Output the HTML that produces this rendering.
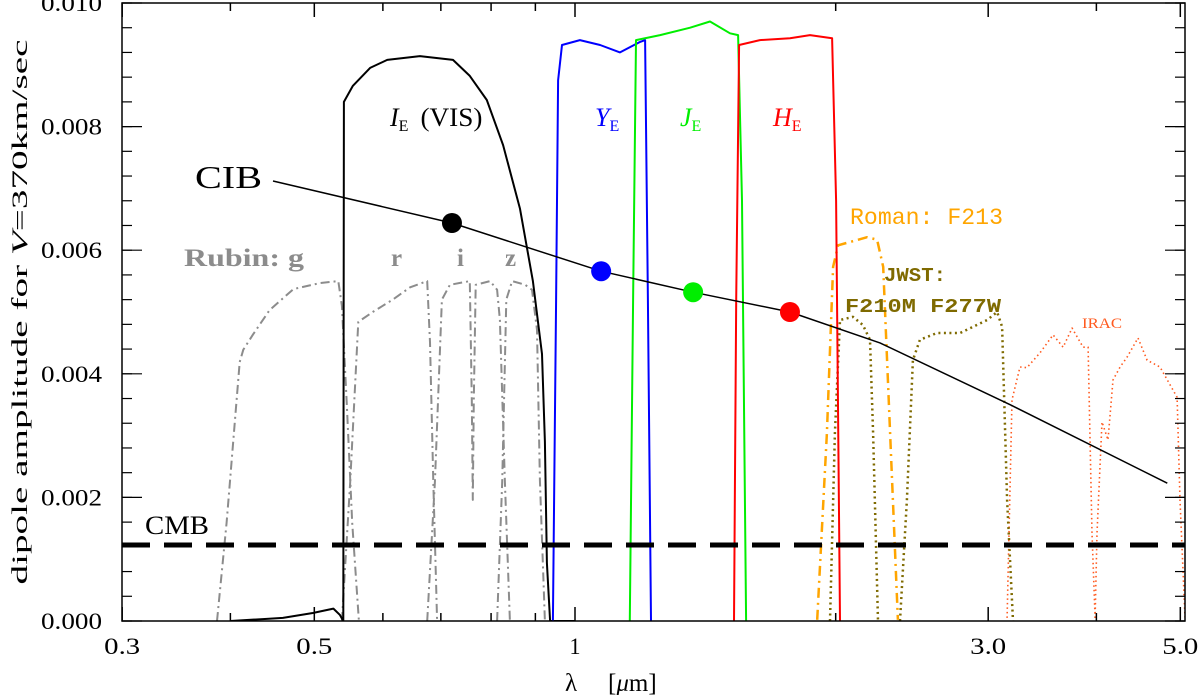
<!DOCTYPE html>
<html><head><meta charset="utf-8"><style>
html,body{margin:0;padding:0;background:#fff;}
svg{display:block;font-family:"Liberation Serif",serif;}
</style></head><body>
<svg id="chart" width="1200" height="695" viewBox="0 0 1200 695" xmlns="http://www.w3.org/2000/svg">
<g id="marks"></g>
<g id="axes"></g>
<g id="labels">
<text x="195" y="188" font-size="32" textLength="67" lengthAdjust="spacingAndGlyphs">CIB</text>
<text x="145" y="534" font-size="26" textLength="64" lengthAdjust="spacingAndGlyphs">CMB</text>
<text x="390" y="126" font-size="26"><tspan font-style="italic">I</tspan><tspan font-size="16" dy="5">E</tspan><tspan dy="-5" dx="12" textLength="62" lengthAdjust="spacingAndGlyphs">(VIS)</tspan></text>
<text x="595" y="126" font-size="26" fill="#0000ff"><tspan font-style="italic">Y</tspan><tspan font-size="16" dy="5">E</tspan></text>
<text x="680" y="126" font-size="26" fill="#00ee00"><tspan font-style="italic">J</tspan><tspan font-size="16" dy="5">E</tspan></text>
<text x="773" y="126" font-size="26" fill="#ff0000"><tspan font-style="italic">H</tspan><tspan font-size="16" dy="5">E</tspan></text>
<text x="184" y="266" font-size="25" fill="#8c8c8c" font-weight="bold" textLength="120" lengthAdjust="spacingAndGlyphs">Rubin: g</text>
<text x="391" y="266" font-size="25" fill="#8c8c8c" font-weight="bold">r</text>
<text x="457" y="266" font-size="25" fill="#8c8c8c" font-weight="bold">i</text>
<text x="505" y="266" font-size="25" fill="#8c8c8c" font-weight="bold">z</text>
<text x="850" y="224" font-size="23" fill="#ffa500" font-family="Liberation Mono, monospace" textLength="153" lengthAdjust="spacingAndGlyphs">Roman: F213</text>
<text x="884" y="281" font-size="19" fill="#7f6a00" font-weight="bold" font-family="Liberation Mono, monospace" textLength="62" lengthAdjust="spacingAndGlyphs">JWST:</text>
<text x="845" y="312" font-size="19" fill="#7f6a00" font-weight="bold" font-family="Liberation Mono, monospace" textLength="156" lengthAdjust="spacingAndGlyphs">F210M F277W</text>
<text x="1082" y="328" font-size="15" fill="#ff5a1f" textLength="40" lengthAdjust="spacingAndGlyphs">IRAC</text>
<text transform="translate(27,312) rotate(-90)" text-anchor="middle" font-size="22" textLength="545" lengthAdjust="spacingAndGlyphs">dipole amplitude for <tspan font-style="italic">V</tspan>=370km/sec</text>
<text x="565" y="691" font-size="25">λ</text>
<text x="608" y="691" font-size="25">[<tspan font-style="italic">μ</tspan>m]</text>
</g>
</svg>
<script>
const xTicksMajor = [0.3, 0.5, 1, 3, 5];
const xTickLabels = ["0.3", "0.5", "1", "3.0", "5.0"];
const xTicksMinor = [0.4, 0.6, 0.7, 0.8, 0.9, 2, 4];
const yTicks = [0, 0.002, 0.004, 0.006, 0.008, 0.010];
const yTickLabels = ["0.000", "0.002", "0.004", "0.006", "0.008", "0.010"];
const cmbLevel = 0.00123;
const cibLam = [0.448, 0.721, 1.072, 1.369, 1.771, 2.25, 3.18, 4.83];
const cibVal = [0.00712, 0.00644, 0.00566, 0.00532, 0.00500, 0.00450, 0.00350, 0.00223];
const dotLam = [0.721, 1.072, 1.369, 1.771];
const dotVal = [0.00644, 0.00566, 0.00532, 0.00500];
const visLam = [0.40, 0.436, 0.46, 0.498, 0.526, 0.535, 0.540, 0.541, 0.554, 0.580, 0.607, 0.662, 0.723, 0.756, 0.791, 0.826, 0.864, 0.894, 0.916, 0.923, 0.928, 0.936, 1.0];
const visVal = [0, 0.00003, 0.00005, 0.00013, 0.0002, 0.0001, 0, 0.0084, 0.00866, 0.00895, 0.00908, 0.00914, 0.00908, 0.00882, 0.00843, 0.0077, 0.00667, 0.0055, 0.00432, 0.0029, 0.00094, 0, 0];
const yLam = [0.943, 0.951, 0.956, 0.966, 1.013, 1.069, 1.127, 1.189, 1.205, 1.214, 1.224];
const yVal = [0, 0.0052, 0.00875, 0.00932, 0.0094, 0.00932, 0.0092, 0.00937, 0.0094, 0.0052, 0];
const jLam = [1.157, 1.167, 1.176, 1.254, 1.358, 1.432, 1.510, 1.543, 1.559, 1.576];
const jVal = [0, 0.0052, 0.0094, 0.00948, 0.0096, 0.0097, 0.00951, 0.00948, 0.0068, 0];
const hLam = [1.526, 1.535, 1.547, 1.635, 1.771, 1.868, 1.981, 2.002, 2.023];
const hVal = [0, 0.0052, 0.00932, 0.0094, 0.00943, 0.00948, 0.00943, 0.0068, 0];
const romanLam = [1.904, 1.954, 1.986, 2.013, 2.174, 2.233, 2.269, 2.311, 2.360];
const romanVal = [0.00002, 0.00304, 0.00573, 0.00608, 0.00621, 0.00617, 0.00573, 0.00304, 0.00002];
const f210Lam = [1.970, 1.996, 2.023, 2.094, 2.150, 2.191, 2.209, 2.238];
const f210Val = [0, 0.00304, 0.00487, 0.00492, 0.00479, 0.00455, 0.00304, 0];
const f277Lam = [2.373, 2.417, 2.456, 2.502, 2.618, 2.784, 2.991, 3.072, 3.113, 3.155, 3.205];
const f277Val = [0, 0.00196, 0.00422, 0.00455, 0.00466, 0.00466, 0.00487, 0.0050, 0.00476, 0.00196, 0];
const irac1Lam = [3.155, 3.196, 3.265, 3.326, 3.443, 3.565, 3.661, 3.750, 3.861, 3.913, 3.954, 3.986];
const irac1Val = [0.00005, 0.00358, 0.00411, 0.0041, 0.00434, 0.00463, 0.00443, 0.00474, 0.00443, 0.00443, 0.00142, 0.00005];
const irac2Lam = [3.986, 4.007, 4.060, 4.126, 4.181, 4.260, 4.340, 4.468, 4.577, 4.737, 4.957, 4.996, 5.063];
const irac2Val = [0.00005, 0.00142, 0.00322, 0.00293, 0.0039, 0.00411, 0.00427, 0.00458, 0.00422, 0.00411, 0.00362, 0.00196, 0.00006];
const gLam = [0.386, 0.396, 0.410, 0.414, 0.425, 0.444, 0.473, 0.508, 0.533, 0.538, 0.545, 0.553, 0.563];
const gVal = [0, 0.00159, 0.00419, 0.00439, 0.00464, 0.00503, 0.00537, 0.00547, 0.0055, 0.0051, 0.00354, 0.00159, 0];
const rLam = [0.538, 0.550, 0.562, 0.584, 0.616, 0.645, 0.675, 0.680, 0.686, 0.693];
const rVal = [0, 0.00225, 0.00484, 0.0050, 0.0052, 0.0054, 0.0055, 0.00451, 0.00225, 0];
const iLam = [0.675, 0.689, 0.702, 0.717, 0.756, 0.760, 0.762, 0.764, 0.768, 0.798, 0.813, 0.819, 0.830, 0.841];
const iVal = [0, 0.00225, 0.0052, 0.00544, 0.0055, 0.00358, 0.00196, 0.00358, 0.00544, 0.0055, 0.00536, 0.00487, 0.00225, 0];
const zLam = [0.813, 0.824, 0.833, 0.846, 0.876, 0.892, 0.904, 0.911, 0.923];
const zVal = [0, 0.00225, 0.0052, 0.0055, 0.00544, 0.00536, 0.00471, 0.00228, 0];

const X0 = 122, X1 = 1185, Y0 = 621, Y1 = 3;
function xs(l) { return 575 + 866 * Math.log10(l); }
function ys(v) { return 621 - v * 61800; }
const NS = "http://www.w3.org/2000/svg";
const marks = document.getElementById('marks');
const axes = document.getElementById('axes');
function mk(tag, attrs, parent) {
  const e = document.createElementNS(NS, tag);
  for (const k in attrs) e.setAttribute(k, attrs[k]);
  parent.appendChild(e);
  return e;
}
function line(lam, val, color, width, dash, name) {
  const pts = lam.map((l, i) => xs(l).toFixed(1) + ',' + ys(val[i]).toFixed(1)).join(' ');
  const p = mk('polyline', {points: pts, fill: 'none', stroke: color, 'stroke-width': width, 'stroke-linejoin': 'round'}, marks);
  if (dash) p.setAttribute('stroke-dasharray', dash);
  
  
}
const defs = mk('defs', {}, marks);
const cp = mk('clipPath', {id: 'clip'}, defs);
mk('rect', {x: X0, y: Y1, width: X1 - X0, height: Y0 - Y1}, cp);
marks.setAttribute('clip-path', 'url(#clip)');

const dd = '9,4,2,4';
line(gLam, gVal, '#8c8c8c', 2, dd, 'rubin-g-curve');
line(rLam, rVal, '#8c8c8c', 2, dd, 'rubin-r-curve');
line(iLam, iVal, '#8c8c8c', 2, dd, 'rubin-i-curve');
line(zLam, zVal, '#8c8c8c', 2, dd, 'rubin-z-curve');
line(irac1Lam, irac1Val, '#ff5a1f', 1.6, '1.5,3', 'irac-ch1-curve');
line(irac2Lam, irac2Val, '#ff5a1f', 1.6, '1.5,3', 'irac-ch2-curve');
line(f210Lam, f210Val, '#7f6a00', 2.5, '2,3.5', 'jwst-f210m-curve');
line(f277Lam, f277Val, '#7f6a00', 2.5, '2,3.5', 'jwst-f277w-curve');
line(romanLam, romanVal, '#ffa500', 2.5, '10,5,2,5', 'roman-f213-curve');
line(visLam, visVal, '#000', 2, null, 'vis-ie-curve');
line(yLam, yVal, '#0000ff', 2, null, 'euclid-y-curve');
line(jLam, jVal, '#00ee00', 2, null, 'euclid-j-curve');
line(hLam, hVal, '#ff0000', 2, null, 'euclid-h-curve');
line(cibLam, cibVal, '#000', 1.5, null, 'cib-curve');
const cmb = mk('line', {x1: X0, x2: X1, y1: ys(cmbLevel), y2: ys(cmbLevel), stroke: '#000', 'stroke-width': 5, 'stroke-dasharray': '28,14'}, marks);


const dotColors = ['#000', '#0000ff', '#00ee00', '#ff0000'];
dotLam.forEach((l, i) => {
  const c = mk('circle', {cx: xs(l), cy: ys(dotVal[i]), r: 10, fill: dotColors[i]}, marks);
  
  
});

const frame = mk('rect', {x: X0, y: Y1, width: X1 - X0, height: Y0 - Y1, fill: 'none', stroke: '#000', 'stroke-width': 1.5}, axes);


xTicksMajor.forEach((t, i) => {
  const x = xs(t);
  mk('line', {x1: x, x2: x, y1: Y0, y2: Y0 - 14, stroke: '#000', 'stroke-width': 1.5}, axes);
  mk('line', {x1: x, x2: x, y1: Y1, y2: Y1 + 14, stroke: '#000', 'stroke-width': 1.5}, axes);
  const tx = mk('text', {x: x, y: 654, 'text-anchor': 'middle', 'font-size': 23}, axes);
  tx.textContent = xTickLabels[i];
  tx.setAttribute('textLength', xTickLabels[i].length > 1 ? 36 : 11);
  tx.setAttribute('lengthAdjust', 'spacingAndGlyphs');
  
  
});
xTicksMinor.forEach(t => {
  const x = xs(t);
  mk('line', {x1: x, x2: x, y1: Y0, y2: Y0 - 8, stroke: '#000', 'stroke-width': 1.5}, axes);
  mk('line', {x1: x, x2: x, y1: Y1, y2: Y1 + 8, stroke: '#000', 'stroke-width': 1.5}, axes);
});
for (let v = 0; v <= 0.01001; v += 0.0004) {
  const y = ys(v);
  mk('line', {x1: X0, x2: X0 + 10, y1: y, y2: y, stroke: '#000', 'stroke-width': 1.2}, axes);
  mk('line', {x1: X1, x2: X1 - 10, y1: y, y2: y, stroke: '#000', 'stroke-width': 1.2}, axes);
}
yTicks.forEach((t, i) => {
  const y = ys(t);
  mk('line', {x1: X0, x2: X0 + 20, y1: y, y2: y, stroke: '#000', 'stroke-width': 1.2}, axes);
  mk('line', {x1: X1, x2: X1 - 20, y1: y, y2: y, stroke: '#000', 'stroke-width': 1.2}, axes);
  const tx = mk('text', {x: 41, y: y + 8, 'font-size': 23, textLength: 61, lengthAdjust: 'spacingAndGlyphs'}, axes);
  tx.textContent = yTickLabels[i];
  
  
});
</script>
</body></html>
